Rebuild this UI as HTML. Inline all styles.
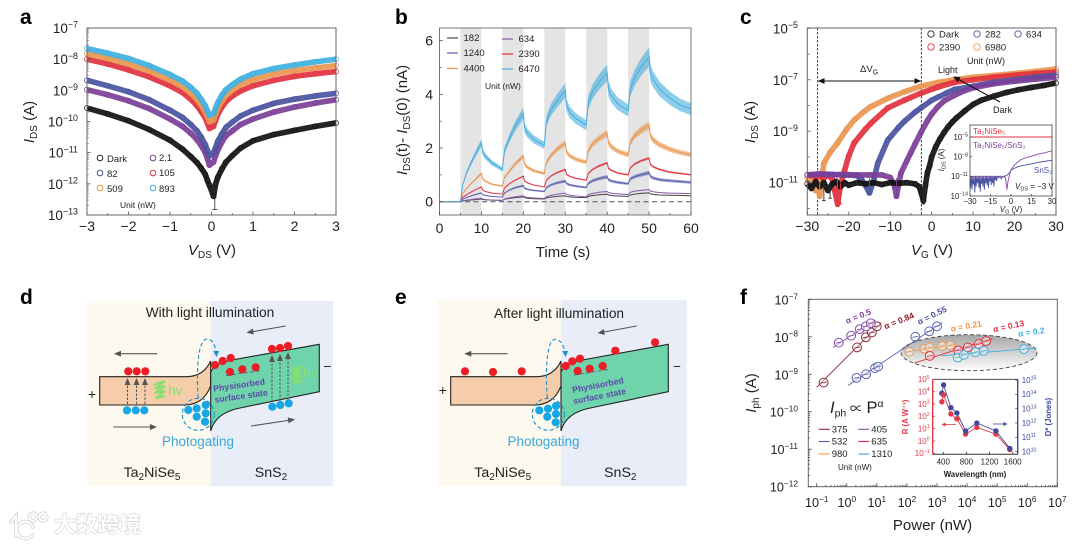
<!DOCTYPE html>
<html lang="en">
<head>
<meta charset="utf-8">
<title>Ta2NiSe5/SnS2 photodetector figure</title>
<style>
html,body{margin:0;padding:0;background:#fff;width:1080px;height:544px;overflow:hidden}
#fig{display:block;filter:blur(0.35px)}
text{font-family:"Liberation Sans","Noto Sans CJK SC",sans-serif;fill:#222}
.title{font-size:15px}
.panel{font-size:21px;font-weight:bold;fill:#000}
.leg{font-size:9.5px}
.unit{font-size:8.5px}
.dt{font-size:13.7px}
.big{font-size:14.2px}
.phys{font-size:8.7px;font-weight:bold;fill:#5a4ca8}
.ph{font-size:13.5px;fill:#3aa7d8}
.hv{font-size:14px;fill:#86e070}
</style>
</head>
<body>
<svg id="fig" xmlns="http://www.w3.org/2000/svg" width="1080" height="544" viewBox="0 0 1080 544">
<defs>
<marker id="ah" markerWidth="8" markerHeight="8" refX="6" refY="3" orient="auto" markerUnits="userSpaceOnUse"><path d="M0 0L7 3L0 6Z" fill="#555"/></marker>
<marker id="ak" markerWidth="8" markerHeight="8" refX="6" refY="3" orient="auto-start-reverse" markerUnits="userSpaceOnUse"><path d="M0 0L7 3L0 6Z" fill="#111"/></marker>
<marker id="ab" markerWidth="8" markerHeight="8" refX="5" refY="3" orient="auto" markerUnits="userSpaceOnUse"><path d="M0 0L6 3L0 6Z" fill="#1e8fc4"/></marker>
<marker id="ar" markerWidth="5" markerHeight="5" refX="3.5" refY="2" orient="auto" markerUnits="userSpaceOnUse"><path d="M0 0L4 2L0 4Z" fill="#e23a48"/></marker>
<marker id="ad" markerWidth="5" markerHeight="5" refX="3.5" refY="2" orient="auto" markerUnits="userSpaceOnUse"><path d="M0 0L4 2L0 4Z" fill="#3f4a9c"/></marker>
<linearGradient id="ellgrad" x1="0" y1="0" x2="0" y2="1"><stop offset="0" stop-color="#a6a6a6"/><stop offset="0.5" stop-color="#d2d2d2"/><stop offset="1" stop-color="#ffffff"/></linearGradient>
</defs>

<text class="panel" x="20" y="24">a</text>
<text class="panel" x="395" y="24">b</text>
<text class="panel" x="740" y="24">c</text>
<text class="panel" x="20" y="304">d</text>
<text class="panel" x="395" y="304">e</text>
<text class="panel" x="740" y="304">f</text>

<!-- panel a static text -->
<text class="title" transform="translate(34,122) rotate(-90)" text-anchor="middle"><tspan font-style="italic">I</tspan><tspan dy="3" font-size="10">DS</tspan><tspan dy="-3"> (A)</tspan></text>
<text class="title" x="212" y="255" text-anchor="middle"><tspan font-style="italic">V</tspan><tspan dy="3" font-size="10">DS</tspan><tspan dy="-3"> (V)</tspan></text>
<g class="leg">
<circle cx="100" cy="158" r="2.8" fill="none" stroke="#2a2a2a"/><text class="leg" x="107" y="162">Dark</text>
<circle cx="153" cy="158" r="2.8" fill="none" stroke="#7b3f98"/><text class="leg" x="159" y="161">2.1</text>
<circle cx="100" cy="173" r="2.8" fill="none" stroke="#4a54a0"/><text class="leg" x="107" y="177">82</text>
<circle cx="153" cy="173" r="2.8" fill="none" stroke="#e2313f"/><text class="leg" x="159" y="176">105</text>
<circle cx="100" cy="188" r="2.8" fill="none" stroke="#e9964f"/><text class="leg" x="107" y="192">509</text>
<circle cx="153" cy="188" r="2.8" fill="none" stroke="#3fb0e0"/><text class="leg" x="159" y="192">893</text>
<text class="unit" x="120" y="208">Unit (nW)</text>
</g>

<!-- panel b static text -->
<text class="title" transform="translate(407,120) rotate(-90)" text-anchor="middle"><tspan font-style="italic">I</tspan><tspan dy="3" font-size="10">DS</tspan><tspan dy="-3">(t)- </tspan><tspan font-style="italic">I</tspan><tspan dy="3" font-size="10">DS</tspan><tspan dy="-3">(0) (nA)</tspan></text>
<text class="title" x="563" y="257" text-anchor="middle">Time (s)</text>

<!-- panel c static text -->
<text class="title" transform="translate(755,122) rotate(-90)" text-anchor="middle"><tspan font-style="italic">I</tspan><tspan dy="3" font-size="10">DS</tspan><tspan dy="-3"> (A)</tspan></text>
<text class="title" x="932" y="255" text-anchor="middle"><tspan font-style="italic">V</tspan><tspan dy="3" font-size="10">G</tspan><tspan dy="-3"> (V)</tspan></text>

<!-- panel d -->
<g>
<rect x="87" y="301" width="123.7" height="185" fill="#fef9ee"/>
<rect x="210.7" y="301" width="122.3" height="185" fill="#e8edf7"/>
<path d="M99.7 376.7L186 376.7C198 376.7 206 371 210.7 361L210.7 386C206 398 198 405 184 405L99.7 405Z" fill="#f5cdaa" stroke="#222" stroke-width="1.1"/>
<path d="M210.7 431L210.7 372C213 366 220 362.5 232 360L319.3 344.3L319.3 391.7L240 408C225 411 214 418 210.7 431Z" fill="#6fd3ab" stroke="#222" stroke-width="1.1"/>
<text class="dt" x="210" y="317" text-anchor="middle">With light illumination</text>
<g stroke="#555" stroke-width="1.1" fill="none">
<line x1="157.3" y1="353.7" x2="115" y2="353.7" marker-end="url(#ah)"/>
<line x1="113.3" y1="427" x2="156" y2="427" marker-end="url(#ah)"/>
<line x1="285.7" y1="326" x2="247.5" y2="332.5" marker-end="url(#ah)"/>
<line x1="251" y1="426" x2="294" y2="419.5" marker-end="url(#ah)"/>
</g>
<g stroke="#555" stroke-width="1" stroke-dasharray="2.5 1.5" fill="none">
<line x1="127.5" y1="404" x2="127.5" y2="379" marker-end="url(#ah)"/>
<line x1="136.5" y1="404" x2="136.5" y2="379" marker-end="url(#ah)"/>
<line x1="145" y1="404" x2="145" y2="379" marker-end="url(#ah)"/>
<line x1="272" y1="402" x2="272" y2="356" marker-end="url(#ah)"/>
<line x1="280" y1="401" x2="280" y2="355" marker-end="url(#ah)"/>
<line x1="288" y1="400" x2="288" y2="353" marker-end="url(#ah)"/>
</g>
<g fill="#ee1c25">
<circle cx="128.3" cy="371.3" r="4.1"/><circle cx="136.7" cy="371.3" r="4.1"/><circle cx="145.3" cy="371.3" r="4.1"/>
<circle cx="215" cy="365" r="4.1"/><circle cx="222.7" cy="361" r="4.1"/><circle cx="230.7" cy="358" r="4.1"/>
<circle cx="230" cy="372" r="4.1"/><circle cx="242.3" cy="369.3" r="4.1"/><circle cx="255.7" cy="367.3" r="4.1"/>
<circle cx="272" cy="349" r="4.1"/><circle cx="280" cy="348" r="4.1"/><circle cx="288" cy="346" r="4.1"/>
</g>
<line x1="226" y1="375.5" x2="261.7" y2="370.5" stroke="#555" stroke-width=".8" stroke-dasharray="4 2"/>
<g fill="#18a7e6">
<circle cx="127" cy="410.3" r="4.1"/><circle cx="135.7" cy="410.3" r="4.1"/><circle cx="144.3" cy="410.3" r="4.1"/>
<circle cx="272.3" cy="406.7" r="4.1"/><circle cx="280.3" cy="405" r="4.1"/><circle cx="288.7" cy="403.3" r="4.1"/>
<circle cx="188.3" cy="410" r="4.1"/><circle cx="196.7" cy="408.3" r="4.1"/><circle cx="205.7" cy="405" r="4.1"/>
<circle cx="196.7" cy="416.7" r="4.1"/><circle cx="205.7" cy="413.3" r="4.1"/><circle cx="205" cy="421.7" r="4.1"/>
</g>
<circle cx="198.3" cy="414.3" r="16" fill="none" stroke="#1e8fc4" stroke-width="1.1" stroke-dasharray="4 2.5"/>
<path d="M198.3 398C196 370 198 339 207 339C213 339 216 347 216.5 356" fill="none" stroke="#1e8fc4" stroke-width="1.1" stroke-dasharray="4 2.5" marker-end="url(#ab)"/>
<g fill="none" stroke="#86e070" stroke-width="2.2">
<path d="M154 385L165 381L155 389L165 386L155 393L165 391L156 398L165 396"/>
<path d="M291 370L302 366L292 374L302 371L292 378L302 376L293 383L302 381"/>
</g>
<text class="hv" x="168" y="395">hv</text>
<text class="hv" x="303" y="378">hv</text>
<text class="phys" transform="translate(239.5,388) rotate(-8)" text-anchor="middle">Physisorbed</text>
<text class="phys" transform="translate(241.5,399) rotate(-8)" text-anchor="middle">surface state</text>
<text class="ph" x="198" y="446" text-anchor="middle">Photogating</text>
<text class="dt" x="92" y="399" text-anchor="middle">+</text>
<text class="dt" x="327.5" y="371" text-anchor="middle">−</text>
<text class="big" x="152" y="477" text-anchor="middle">Ta<tspan dy="3" font-size="10">2</tspan><tspan dy="-3">NiSe</tspan><tspan dy="3" font-size="10">5</tspan></text>
<text class="big" x="271" y="477" text-anchor="middle">SnS<tspan dy="3" font-size="10">2</tspan></text>
</g>

<!-- panel e -->
<g>
<rect x="437.7" y="300" width="123.3" height="186" fill="#fef9ee"/>
<rect x="561" y="300" width="125.7" height="186" fill="#e8edf7"/>
<path d="M450.7 376.7L536.3 376.7C548.3 376.7 556.3 371 561 361L561 386C556.3 398 548.3 405 534.3 405L450.7 405Z" fill="#f5cdaa" stroke="#222" stroke-width="1.1"/>
<path d="M561 431L561 372C563.3 366 570.3 362.5 582.3 360L668.3 344.3L668.3 391.7L590.3 408C575.3 411 564.3 418 561 431Z" fill="#6fd3ab" stroke="#222" stroke-width="1.1"/>
<text class="dt" x="559" y="318" text-anchor="middle">After light illumination</text>
<g stroke="#555" stroke-width="1.1" fill="none">
<line x1="507.7" y1="353.7" x2="465.3" y2="353.7" marker-end="url(#ah)"/>
<line x1="636.7" y1="326" x2="598.5" y2="333" marker-end="url(#ah)"/>
</g>
<g fill="#ee1c25">
<circle cx="465" cy="371.3" r="4.1"/><circle cx="493" cy="372" r="4.1"/><circle cx="521.7" cy="371.3" r="4.1"/>
<circle cx="565.7" cy="366" r="4.1"/><circle cx="572.3" cy="361.3" r="4.1"/><circle cx="580" cy="358.7" r="4.1"/>
<circle cx="577.7" cy="371" r="4.1"/><circle cx="589.7" cy="368.7" r="4.1"/><circle cx="602.7" cy="366" r="4.1"/>
<circle cx="615.3" cy="350.7" r="4.1"/><circle cx="655" cy="342.3" r="4.1"/>
</g>
<line x1="574" y1="375" x2="608" y2="369.5" stroke="#555" stroke-width=".8" stroke-dasharray="4 2"/>
<g fill="#18a7e6">
<circle cx="539.3" cy="410.3" r="4.1"/><circle cx="548" cy="408.7" r="4.1"/><circle cx="556" cy="406" r="4.1"/>
<circle cx="547.3" cy="416.7" r="4.1"/><circle cx="556" cy="414" r="4.1"/><circle cx="555.7" cy="422.3" r="4.1"/>
</g>
<circle cx="548.3" cy="414.3" r="16" fill="none" stroke="#1e8fc4" stroke-width="1.1" stroke-dasharray="4 2.5"/>
<path d="M547.3 398C545 370 547 339.3 555 339.3C561 339.3 565 347 565.5 356" fill="none" stroke="#1e8fc4" stroke-width="1.1" stroke-dasharray="4 2.5" marker-end="url(#ab)"/>
<text class="phys" transform="translate(598.5,388) rotate(-11)" text-anchor="middle">Physisorbed</text>
<text class="phys" transform="translate(600,399) rotate(-11)" text-anchor="middle">surface state</text>
<text class="ph" x="543.5" y="446" text-anchor="middle">Photogating</text>
<text class="dt" x="442.7" y="395" text-anchor="middle">+</text>
<text class="dt" x="677" y="371" text-anchor="middle">−</text>
<text class="big" x="502.7" y="477" text-anchor="middle">Ta<tspan dy="3" font-size="10">2</tspan><tspan dy="-3">NiSe</tspan><tspan dy="3" font-size="10">5</tspan></text>
<text class="big" x="620.3" y="477" text-anchor="middle">SnS<tspan dy="3" font-size="10">2</tspan></text>
</g>

<!-- panel f static text -->
<text class="title" transform="translate(756,393) rotate(-90)" text-anchor="middle"><tspan font-style="italic">I</tspan><tspan dy="3" font-size="10">ph</tspan><tspan dy="-3"> (A)</tspan></text>
<text class="title" x="932.5" y="530" text-anchor="middle">Power (nW)</text>

<!-- watermark -->
<g>
<g fill="none" stroke="#d6d6d6" stroke-width="3.6" stroke-linecap="round">
<path d="M11 522L16 516L16 536"/><path d="M33 527A8.5 8.5 0 1 0 32 535"/><circle cx="33" cy="517" r="3.8"/><circle cx="43" cy="517" r="3.8"/>
</g>
<g fill="none" stroke="#fff" stroke-width="1.8" stroke-linecap="round">
<path d="M11 522L16 516L16 536"/><path d="M33 527A8.5 8.5 0 1 0 32 535"/><circle cx="33" cy="517" r="3.8"/><circle cx="43" cy="517" r="3.8"/>
</g>
<text x="54" y="532" font-size="21.5" font-weight="bold" style="fill:#fff;stroke:#d6d6d6;stroke-width:1.3px;paint-order:stroke;letter-spacing:.3px;font-family:'Liberation Sans','Noto Sans CJK SC',sans-serif">大数跨境</text>
</g>

<g id="plots"></g>
</svg>

<script>
/* ---------- panel a data ---------- */
const aVoltage=[-3,-2.5,-2,-1.5,-1,-0.7,-0.5,-0.35,-0.25,-0.15,-0.1,-0.05,0.05,0.1,0.15,0.25,0.35,0.5,0.7,1,1.5,2,2.5,3];
const aDark=[2.7e-10,1.75e-10,1.05e-10,5.5e-11,2.5e-11,1.3e-11,7.5e-12,4.8e-12,3.2e-12,2e-12,1.3e-12,9e-13,4e-13,1e-12,1.6e-12,3e-12,5e-12,8e-12,1.4e-11,2.4e-11,3.8e-11,5.2e-11,7e-11,9e-11];
const a2p1=[1.05e-9,7.2e-10,4.6e-10,2.6e-10,1.2e-10,7e-11,4.2e-11,2.6e-11,1.7e-11,1e-11,6.5e-12,4e-12,5e-12,8e-12,1.2e-11,2.2e-11,3.5e-11,5e-11,8e-11,1.2e-10,2e-10,2.9e-10,3.9e-10,5e-10];
const a82=[2.1e-9,1.4e-9,9e-10,5e-10,2.3e-10,1.35e-10,8e-11,5e-11,3.2e-11,1.8e-11,1.2e-11,8e-12,1e-11,1.5e-11,2.3e-11,4e-11,6.5e-11,9.5e-11,1.5e-10,2.3e-10,3.8e-10,5.2e-10,6.6e-10,8e-10];
const a105=[1e-8,7e-9,4.5e-9,2.7e-9,1.4e-9,8.5e-10,5.2e-10,3.2e-10,2.1e-10,1.3e-10,9e-11,6e-11,7e-11,1.1e-10,1.7e-10,2.9e-10,4.4e-10,6.5e-10,9.5e-10,1.4e-9,2.1e-9,2.8e-9,3.4e-9,4e-9];
const a509=[1.5e-8,1.05e-8,7e-9,4.2e-9,2.1e-9,1.3e-9,8e-10,5e-10,3.3e-10,2e-10,1.4e-10,1e-10,1.1e-10,1.7e-10,2.6e-10,4.4e-10,6.8e-10,1e-9,1.5e-9,2.2e-9,3.3e-9,4.3e-9,5.2e-9,6.2e-9];
const a893=[2.2e-8,1.55e-8,1.05e-8,6.2e-9,3.2e-9,2e-9,1.25e-9,8e-10,5.2e-10,3.2e-10,2.2e-10,1.6e-10,1.8e-10,2.7e-10,4e-10,7e-10,1.05e-9,1.5e-9,2.3e-9,3.4e-9,5e-9,6.5e-9,8.2e-9,1e-8];
const aXTicks=[-3,-2,-1,0,1,2,3];
const aYExponents=[-7,-8,-9,-10,-11,-12,-13];
const aErrV=[0.08];
const aErrLow=[1.5e-13];
const aErrHigh=[4e-13];

/* ---------- panel b data ---------- */
const bTime=[0,5,5.5,6.5,8,10,10.3,11,12.5,15,15.5,16.5,18,20,20.3,21,22.5,25,25.5,26.5,28,30,30.3,31,32.5,35,35.5,36.5,38,40,40.3,41,42.5,45,45.5,46.5,48,50,50.3,51,52.5,55,57.5,60];
const b6470=[0,0,.6,1.1,1.6,2.2,1.85,1.68,1.45,1.2,1.9,2.3,2.8,3.3,2.75,2.55,2.32,2.1,3.0,3.4,3.75,4.15,3.6,3.35,3.1,2.85,3.7,4.1,4.45,4.8,4.2,3.95,3.65,3.4,4.2,4.6,5.0,5.4,4.8,4.55,4.2,3.85,3.6,3.45];
const b4400=[0,0,.3,.5,.75,1.05,.85,.76,.65,.58,.9,1.1,1.4,1.7,1.4,1.28,1.15,1.05,1.45,1.7,1.95,2.18,1.85,1.72,1.58,1.47,1.9,2.15,2.35,2.55,2.2,2.05,1.88,1.75,2.2,2.45,2.65,2.85,2.45,2.3,2.12,1.95,1.83,1.75];
const b2390=[0,0,.15,.27,.4,.55,.43,.38,.32,.28,.5,.65,.8,.95,.77,.7,.62,.55,.8,.95,1.08,1.2,1.02,.95,.87,.8,1.05,1.2,1.33,1.45,1.25,1.17,1.07,1,1.25,1.4,1.52,1.62,1.4,1.3,1.2,1.1,1.05,1];
const b1240=[0,0,.09,.16,.24,.33,.26,.23,.2,.17,.32,.42,.52,.6,.5,.46,.42,.38,.52,.62,.7,.77,.68,.63,.58,.53,.68,.78,.86,.93,.82,.77,.72,.67,.85,.93,1,1.08,.95,.88,.82,.78,.75,.72];
const b634=[0,0,.03,.06,.09,.13,.1,.08,.06,.05,.1,.14,.18,.22,.18,.16,.14,.12,.18,.23,.28,.32,.27,.24,.21,.18,.26,.31,.35,.38,.34,.32,.29,.27,.35,.39,.42,.45,.4,.37,.34,.32,.31,.3];
const b182=[0,0,.03,.05,.07,.1,.08,.07,.06,.05,.09,.12,.15,.18,.15,.13,.11,.1,.14,.17,.2,.22,.19,.18,.16,.15,.2,.23,.26,.28,.25,.23,.21,.2,.25,.28,.31,.33,.29,.27,.25,.24,.23,.22];
const bUncertainty=[0.06,0.035,0.07,0.03,0.05,0.065];
const bPulseOn=[5,15,25,35,45];
const bPulseOff=[10,20,30,40,50];
const bXTicks=[0,10,20,30,40,50,60];
const bYTicks=[0,2,4,6];

/* ---------- panel c data ---------- */
const cVgDark=[-30,-29,-28,-27,-26,-25,-24,-23,-22,-21,-20,-18,-16,-14,-12,-10,-8,-6,-4,-3,-2.5,-2,-1.5,-1,-0.5,0,1,2,3,4,5,6,8,10,12,15,18,21,24,27,30];
const cIDark=[9e-12,6e-12,1.1e-11,7e-12,1e-11,5e-12,9e-12,1.1e-11,7e-12,1e-11,8e-12,1e-11,9e-12,1e-11,8.5e-12,1e-11,9.5e-12,1e-11,9e-12,7e-12,4e-12,2e-12,8e-12,2.5e-11,4.5e-11,1e-10,2.5e-10,5e-10,9e-10,1.5e-9,2.3e-9,3.3e-9,6.2e-9,1.1e-8,1.6e-8,2.3e-8,3.2e-8,4.1e-8,5e-8,6e-8,7.5e-8];
const cVg282=[-30,-27,-24,-21,-18,-15,-12,-10,-9,-8.5,-8,-7.4,-6,-5,-4,-2.5,-1,0,1.5,3,5.5,8,10.3,15,20,25,30];
const cI282=[2e-11,2.2e-11,2e-11,2.1e-11,2e-11,2e-11,2e-11,1.6e-11,8e-12,3e-12,8e-12,2.4e-11,7e-11,1.5e-10,3.2e-10,9.5e-10,2.6e-9,4.6e-9,9e-9,1.5e-8,2.5e-8,3.8e-8,5e-8,7e-8,8.8e-8,1.05e-7,1.25e-7];
const cVg634=[-30,-27,-24,-21,-18,-17,-16,-15,-14,-13,-10.6,-8,-6.6,-4,-2.6,0,1.5,3.5,5.5,10,15,20,25,30];
const cI634=[2e-11,2.2e-11,2.1e-11,2e-11,1.9e-11,1.4e-11,8e-12,4e-12,1.2e-11,5.7e-11,4.5e-10,1.4e-9,2.4e-9,5.5e-9,8e-9,1.6e-8,2.1e-8,3e-8,4.2e-8,5.6e-8,8e-8,1e-7,1.25e-7,1.5e-7];
const cVg2390=[-30,-28,-26,-25,-24,-23.5,-22.7,-22,-21,-20,-18.7,-16,-14.7,-10.6,-6.6,-2.6,1.5,5.5,10,15,20,25,30];
const cI2390=[2e-11,1.8e-11,1.5e-11,2e-11,1.4e-11,6e-12,1.5e-12,8e-12,3e-11,1.1e-10,3.5e-10,1.2e-9,2e-9,8e-9,1.6e-8,3e-8,5.2e-8,8e-8,1e-7,1.25e-7,1.5e-7,1.75e-7,2e-7];
const cVg6980=[-30,-29,-28.5,-28,-27.5,-27,-26,-24.5,-22.7,-20.5,-18.7,-16.5,-14.7,-10.6,-6.6,-2.6,1.5,5.5,10,17.6,25,30];
const cI6980=[1.5e-11,8e-12,1.6e-11,5e-12,9e-12,3e-12,5.7e-11,1.5e-10,3.5e-10,1.2e-9,2.7e-9,5.5e-9,9e-9,1.9e-8,3.4e-8,5.6e-8,7.8e-8,1e-7,1.25e-7,1.6e-7,2.1e-7,2.6e-7];
const cErrVg=[-27,-26,-24.5,-22.7,-22,-15,-8.5,-2];
const cErrLow=[3e-12,2e-12,2.5e-12,1.2e-12,1.5e-12,4e-12,2.5e-12,1.5e-12];
const cErrHigh=[1.5e-11,1e-11,1e-11,1.5e-11,1e-11,1.5e-11,1.5e-11,1e-11];
const cErrSeries=['#e9964f','#2a2a2a','#2a2a2a','#e2313f','#e2313f','#4a54a0','#7b3f98','#2a2a2a'];
const cXTicks=[-30,-20,-10,0,10,20,30];
const cYExponents=[-5,-7,-9,-11];
const cGuideVg=[-27.5,-2.5];

/* ---------- panel c inset data ---------- */
const insetTaVg=[-30,30];
const insetTaI=[1e-5,1e-5];
const insetHetVg=[-30,-20,-10,-6,-4,-3,-2,0,2,4,7,10,15,20,25,30];
const insetHetI=[1e-11,1e-11,1e-11,1e-11,6e-12,1e-13,3e-12,1e-10,4e-10,1e-9,3.3e-9,6e-9,1.2e-8,2.5e-8,4e-8,8e-8];
const insetSnVg=[-30,-29.5,-29,-28.5,-28,-27.5,-27,-26.5,-26,-25.5,-25,-24.5,-24,-23.5,-23,-22.5,-22,-21.5,-21,-20.5,-20,-19.5,-19,-18.5,-18,-17.5,-17,-16.5,-16,-15.5,-15,-14.5,-14,-13.5,-13,-12.5,-12,-11.5,-11,-10.5,-10,-9,-8,-7,-6,-5,-4,-3,-2,-1,0,2,4,7,10,15,20,25,30];
const insetSnI=[1e-11,2e-13,1e-11,1e-13,8e-12,6e-13,1e-11,4e-14,1e-11,3e-13,9e-12,1e-12,1e-11,2e-13,1e-11,5e-14,8e-12,8e-13,1e-11,3e-13,1e-11,1e-13,9e-12,1e-12,1e-11,5e-13,1e-11,2e-13,8e-12,2e-12,1e-11,5e-13,1e-11,1e-12,9e-12,3e-13,1e-11,3e-12,1e-11,2e-12,1e-11,6e-12,1e-11,4e-12,1e-11,1e-11,1.2e-11,1.5e-11,2.2e-11,4e-11,8e-11,1.5e-10,2.4e-10,3.8e-10,5e-10,8e-10,1.3e-9,2e-9,2.8e-9];
const insetXTicks=[-30,-15,0,15,30];
const insetYExponents=[-5,-8,-11,-14];

/* ---------- panel f data ---------- */
const fP375=[0.17,2.2,4.3,6.8,10];
const fI375=[6e-10,5.2e-9,9.7e-9,1.3e-8,1.9e-8];
const fP405=[0.54,1.4,2.7,4.3,6.3];
const fI405=[7e-9,1.07e-8,1.6e-8,1.9e-8,2.3e-8];
const fP532=[2.1,4.4,8.7,11,190,550,1000];
const fI532=[8e-10,1e-9,1.45e-9,1.6e-9,1e-8,1.4e-8,1.9e-8];
const fP980=[120,380,575,1480,2760];
const fI980=[4e-9,4.8e-9,5.2e-9,5.7e-9,5.9e-9];
const fP635=[575,5100,10500,24500,43000];
const fI635=[3.1e-9,4.3e-9,5.2e-9,6.4e-9,7.7e-9];
const fP1310=[4900,7800,19000,36000,776000];
const fI1310=[2.8e-9,3.3e-9,3.9e-9,4.2e-9,4.7e-9];
const fFit375P=[0.1,14];
const fFit375I=[4.5e-10,2.4e-8];
const fFit405P=[0.35,9];
const fFit405I=[5.2e-9,2.8e-8];
const fFit532P=[1.1,1500];
const fFit532I=[5e-10,2.4e-8];
const fFit980P=[90,5000];
const fFit980I=[3.9e-9,6.2e-9];
const fFit635P=[180,70000];
const fFit635I=[2e-9,9e-9];
const fFit1310P=[1400,2000000];
const fFit1310I=[3.1e-9,5e-9];
const fExponentsX=[-1,0,1,2,3,4,5,6,7];
const fExponentsY=[-7,-8,-9,-10,-11,-12];

/* ---------- panel f inset data ---------- */
const wl=[375,405,532,635,785,980,1310,1550];
const wlR=[1.5e3,5.4e3,155,63,3.6,12.6,3.6,0.2];
const wlD=[1.2e14,4.5e14,1.2e13,5e12,2.8e11,1e12,2.8e11,1.7e10];
const wlTicks=[400,800,1200,1600];
const wlRExp=[5,4,3,2,1,0,-1];
const wlDExp=[15,14,13,12,11,10];

/* ---------- helpers ---------- */
const NS='http://www.w3.org/2000/svg';
const root=document.getElementById('plots');
const BLACK='#2a2a2a',PURPLE='#7b3f98',BLUE='#4a54a0',RED='#e2313f',ORANGE='#e9964f',CYAN='#3fb0e0';
function mk(tag,attrs,parent){
  const e=document.createElementNS(NS,tag);
  for(const k in attrs)e.setAttribute(k,attrs[k]);
  parent.appendChild(e);
  return e;
}
function lin(d0,d1,r0,r1){return v=>r0+(v-d0)/(d1-d0)*(r1-r0);}
function lg(d0,d1,r0,r1){return v=>r0+(Math.log10(v)-d0)/(d1-d0)*(r1-r0);}
function ptsOf(xs,ys,sx,sy){return xs.map((x,i)=>sx(x).toFixed(2)+','+sy(ys[i]).toFixed(2)).join(' ');}
function grp(parent){
  const g=mk('g',{},parent);
  return g;
}
function frame(parent,x0,y0,x1,y1,color,w){
  const r=mk('rect',{x:x0,y:y0,width:x1-x0,height:y1-y0,fill:'none',stroke:color,'stroke-width':w},parent);
  
  
}
function tickV(parent,x,y,len,color){
  const t=mk('line',{x1:x,x2:x,y1:y,y2:y+len,stroke:color,'stroke-width':0.8},parent);
  
  
}
function tickH(parent,x,y,len,color){
  const t=mk('line',{x1:x,x2:x+len,y1:y,y2:y,stroke:color,'stroke-width':0.8},parent);
  
  
}
function numLabel(parent,x,y,value,anchor,size,fill){
  const t=mk('text',{x:x,y:y,'text-anchor':anchor,'font-size':size},parent);
  
  
  if(fill)t.style.fill=fill;
  t.textContent=String(value).replace('-','−');
  return t;
}
function expLabel(parent,x,y,exp,anchor,size,fill){
  const t=mk('text',{x:x,y:y,'text-anchor':anchor,'font-size':size},parent);
  
  
  if(fill)t.style.fill=fill;
  t.textContent='10';
  const s=mk('tspan',{dy:-size*0.4,'font-size':size*0.66},t);
  if(fill)s.style.fill=fill;
  s.textContent=String(exp).replace('-','−');
  return t;
}
function scatterSeries(parent,xs,ys,sx,sy,color,bandW,r){
  const g=grp(parent);
  
  
  const band=mk('polyline',{points:ptsOf(xs,ys,sx,sy),fill:'none',stroke:color,'stroke-width':bandW,'stroke-linejoin':'round','stroke-linecap':'butt','stroke-opacity':0.92},g);
  
  
  xs.forEach((x,i)=>{
    const c=mk('circle',{cx:sx(x).toFixed(2),cy:sy(ys[i]).toFixed(2),r:r,fill:'none',stroke:color,'stroke-width':0.7},g);
    
    
  });
}
function solidLine(parent,xs,ys,sx,sy,color,w){
  const l=mk('polyline',{points:ptsOf(xs,ys,sx,sy),fill:'none',stroke:color,'stroke-width':w,'stroke-linejoin':'round'},parent);
  
  
}

/* ---------- panel a ---------- */
(function(){
  const g=grp(root);
  
  
  const L=87,R=336,T=28,B=215;
  const sx=lin(-3,3,L,R),sy=lg(-7,-13,T,B);
  [[a2p1,PURPLE],[a82,BLUE],[a105,RED],[a509,ORANGE],[a893,CYAN],[aDark,'#111']].forEach(s=>scatterSeries(g,aVoltage,s[0],sx,sy,s[1],5.6,2.6));
  aErrV.forEach((v,i)=>{
    const e=mk('line',{x1:sx(v),x2:sx(v),y1:sy(aErrLow[i]),y2:sy(aErrHigh[i]),stroke:BLACK,'stroke-width':0.8},g);
    
    
    const c=mk('line',{x1:sx(v)-2.5,x2:sx(v)+2.5,y1:sy(aErrLow[i]),y2:sy(aErrLow[i]),stroke:BLACK,'stroke-width':0.8},g);
    
    
  });
  frame(g,L,T,R,B,'#666',1);
  aXTicks.forEach(v=>{tickV(g,sx(v),B,-3.5,'#555');numLabel(g,sx(v),231,v,'middle',14);});
  aXTicks.slice(0,-1).forEach(v=>tickV(g,sx(v+0.5),B,-2,'#555'));
  aYExponents.forEach(e=>{
    tickH(g,L,sy(Math.pow(10,e)),3.5,'#555');
    expLabel(g,78,sy(Math.pow(10,e))+5,e,'end',13.5);
    if(e>-13)[2,3,4,5,6,7,8,9].forEach(m=>tickH(g,L,sy(m*Math.pow(10,e-1)),1.8,'#777'));
  });
})();

/* ---------- panel b ---------- */
(function(){
  const g=grp(root);
  
  
  const L=439.5,R=691,T=28,B=215;
  const sx=lin(0,60,L,R),sy=lin(0,6,201.7,40.7);
  bPulseOn.forEach((on,i)=>{
    const r=mk('rect',{x:sx(on),y:T,width:sx(bPulseOff[i])-sx(on),height:B-T,fill:'#e4e4e4'},g);
    
    
  });
  const z=mk('line',{x1:L,x2:R,y1:sy(0),y2:sy(0),stroke:'#555','stroke-width':1,'stroke-dasharray':'5 3.5'},g);
  
  
  const series=[[b182,'#4a4a4a'],[b634,'#8a5aa8'],[b1240,'#5a62ae'],[b2390,RED],[b4400,ORANGE],[b6470,'#45aede']];
  series.forEach((s,k)=>{
    const f=bUncertainty[k];
    const top=bTime.map((t,i)=>sx(t).toFixed(2)+','+sy(s[0][i]*(1+f)).toFixed(2));
    const bot=bTime.map((t,i)=>sx(t).toFixed(2)+','+sy(s[0][i]*(1-f)).toFixed(2)).reverse();
    const p=mk('polygon',{points:top.concat(bot).join(' '),fill:s[1],'fill-opacity':0.6},g);
    
    
    solidLine(g,bTime,s[0],sx,sy,s[1],1);
  });
  frame(g,L,T,R,B,'#777',1);
  bXTicks.forEach(v=>{tickV(g,sx(v),B,-3.5,'#555');numLabel(g,sx(v),233,v,'middle',14);});
  bXTicks.slice(0,-1).forEach(v=>tickV(g,sx(v+5),B,-2,'#555'));
  bYTicks.forEach(v=>{tickH(g,L,sy(v),3.5,'#555');numLabel(g,433,sy(v)+5,v,'end',14);});
  bYTicks.slice(0,-1).forEach(v=>tickH(g,L,sy(v+1),2,'#555'));
  const legN=[['182',447,38,'#4a4a4a'],['634',502,39,'#8a5aa8'],['1240',447,53,'#5a62ae'],['2390',502,54,RED],['4400',447,68.5,ORANGE],['6470',502,69,'#45aede']];
  legN.forEach(e=>{
    const l=mk('line',{x1:e[1],x2:e[1]+11,y1:e[2],y2:e[2],stroke:e[3],'stroke-width':1.2},g);
    
    
    const t=mk('text',{x:e[1]+16.5,y:e[2]+3.2,'font-size':9.5},g);
    
    
    t.textContent=e[0];
  });
  const u=mk('text',{x:485,y:89,'font-size':8.5},g);
  
  
  u.textContent='Unit (nW)';
})();

/* ---------- panel c ---------- */
(function(){
  const g=grp(root);
  
  
  const L=807.3,R=1056,T=28,B=215;
  const sx=lin(-30,30,L,R),sy=lg(-5,-11,28.3,182.7);
  cGuideVg.forEach(v=>{
    const d=mk('line',{x1:sx(v),x2:sx(v),y1:T,y2:B,stroke:'#111','stroke-width':0.8,'stroke-dasharray':'2.5 1.5'},g);
    
    
  });
  [[cVg6980,cI6980,ORANGE],[cVg2390,cI2390,RED],[cVg634,cI634,BLUE],[cVg282,cI282,PURPLE],[cVgDark,cIDark,'#111']].forEach(s=>scatterSeries(g,s[0],s[1],sx,sy,s[2],5.6,2.6));
  cErrVg.forEach((v,i)=>{
    const e=mk('line',{x1:sx(v),x2:sx(v),y1:sy(cErrLow[i]),y2:sy(cErrHigh[i]),stroke:cErrSeries[i],'stroke-width':0.9},g);
    
    
    const c=mk('line',{x1:sx(v)-1.8,x2:sx(v)+1.8,y1:sy(cErrLow[i]),y2:sy(cErrLow[i]),stroke:cErrSeries[i],'stroke-width':0.9},g);
    
    
  });
  const dv=mk('line',{x1:sx(cGuideVg[0])+1,x2:sx(cGuideVg[1])-1,y1:81,y2:81,stroke:'#111','stroke-width':1,'marker-start':'url(#ak)','marker-end':'url(#ak)'},g);
  
  
  const la=mk('line',{x1:1000,y1:102,x2:954,y2:77,stroke:'#111','stroke-width':1,'marker-end':'url(#ak)'},g);
  
  
  frame(g,L,T,R,B,'#666',1);
  cXTicks.forEach(v=>{tickV(g,sx(v),B,-3.5,'#555');numLabel(g,sx(v),231,v,'middle',14);});
  cXTicks.slice(0,-1).forEach(v=>tickV(g,sx(v+5),B,-2,'#555'));
  cYExponents.forEach(e=>{
    tickH(g,L,sy(Math.pow(10,e)),3.5,'#555');
    expLabel(g,798,sy(Math.pow(10,e))+5,e,'end',13.5);
    tickH(g,L,sy(Math.pow(10,e-1)),2.5,'#555');
  });
  const lc=[['Dark',931,34,BLACK],['282',977,34,PURPLE],['634',1018,34,BLUE],['2390',931,47,RED],['6980',977,47,ORANGE]];
  lc.forEach(e=>{
    const c=mk('circle',{cx:e[1],cy:e[2],r:3.2,fill:'none',stroke:e[3],'stroke-width':0.9},g);
    
    
    const t=mk('text',{x:e[1]+8,y:e[2]+3.4,'font-size':9.5},g);
    
    
    t.textContent=e[0];
  });
  [['Unit (nW)',967,64],['Light',938,73],['Dark',993,113]].forEach(e=>{
    const t=mk('text',{x:e[1],y:e[2],'font-size':9},g);
    
    
    t.textContent=e[0];
  });
  const dl=mk('text',{x:860,y:72,'font-size':9.5},g);
  
  
  dl.textContent='ΔV';
  const ds=mk('tspan',{dy:2.5,'font-size':7},dl);
  ds.textContent='G';

  /* inset */
  const ig=grp(g);
  
  
  const iL=970,iR=1052,iT=125,iB=196;
  const wb=mk('rect',{x:iL,y:iT,width:iR-iL,height:iB-iT,fill:'#fff'},ig);
  
  
  const tx=lin(-30,30,iL,iR),ty=lg(-5,-14,137,196);
  solidLine(ig,insetSnVg,insetSnI,tx,ty,'#4a54a0',0.9);
  solidLine(ig,insetHetVg,insetHetI,tx,ty,'#8a4aa8',0.9);
  solidLine(ig,insetTaVg,insetTaI,tx,ty,'#e2313f',1);
  frame(ig,iL,iT,iR,iB,'#444',0.8);
  insetXTicks.forEach(v=>{tickV(ig,tx(v),iB,-2,'#444');numLabel(ig,tx(v),204,v,'middle',7.8);});
  insetYExponents.forEach(e=>{tickH(ig,iL,ty(Math.pow(10,e)),2,'#444');expLabel(ig,iL-2,ty(Math.pow(10,e))+2.8,e,'end',7.8);});
  const iTexts=[['Ta₂NiSe₅',973,134,'#e2313f'],['Ta₂NiSe₅/SnS₂',973,148,'#7b3f98'],['SnS₂',1034,173,'#4a54a0']];
  iTexts.forEach(e=>{
    const t=mk('text',{x:e[1],y:e[2],'font-size':8},ig);
    
    
    t.style.fill=e[3];
    t.textContent=e[0];
  });
  const vd=mk('text',{x:1015,y:189,'font-size':8},ig);
  
  
  vd.innerHTML='<tspan font-style="italic">V</tspan><tspan dy="1.5" font-size="5.5">DS</tspan><tspan dy="-1.5"> = −3 V</tspan>';
  const vg=mk('text',{x:1011,y:212,'font-size':8,'text-anchor':'middle'},ig);
  
  
  vg.innerHTML='<tspan font-style="italic">V</tspan><tspan dy="1.5" font-size="5.5">G</tspan><tspan dy="-1.5"> (V)</tspan>';
  const id=mk('text',{'font-size':8,'text-anchor':'middle'},ig);
  
  
  id.setAttribute('transform','translate(944,160) rotate(-90)');
  id.innerHTML='<tspan font-style="italic">I</tspan><tspan dy="1.5" font-size="5.5">DS</tspan><tspan dy="-1.5"> (A)</tspan>';
})();

/* ---------- panel f ---------- */
(function(){
  const g=grp(root);
  
  
  const L=808.3,R=1057.3,T=299.3,B=486.7;
  const sx=lg(-1,7,816.7,1057.3),sy=lg(-7,-12,T,B);
  const el=mk('ellipse',{cx:969,cy:352.7,rx:68,ry:18,fill:'url(#ellgrad)',stroke:'#444','stroke-width':0.9,'stroke-dasharray':'4 2.5'},g);
  
  
  const sets=[[fP375,fI375,fFit375P,fFit375I,'#8b2a3a'],[fP405,fI405,fFit405P,fFit405I,'#8a4aa8'],[fP532,fI532,fFit532P,fFit532I,'#5a62ae'],[fP980,fI980,fFit980P,fFit980I,ORANGE],[fP635,fI635,fFit635P,fFit635I,RED],[fP1310,fI1310,fFit1310P,fFit1310I,CYAN]];
  sets.forEach(s=>{
    solidLine(g,s[2],s[3],sx,sy,s[4],0.9);
    s[0].forEach((p,i)=>{
      const c=mk('circle',{cx:sx(p).toFixed(2),cy:sy(s[1][i]).toFixed(2),r:4.4,fill:'#fff','fill-opacity':0.45,stroke:s[4],'stroke-width':1},g);
      
      
      const d=mk('line',{x1:sx(p)-3,x2:sx(p)+3,y1:sy(s[1][i])+0.6,y2:sy(s[1][i])-0.6,stroke:s[4],'stroke-width':0.9},g);
      
      
    });
  });
  frame(g,L,T,R,B,'#666',1);
  fExponentsX.forEach(e=>{
    tickV(g,sx(Math.pow(10,e)),B,-3.5,'#444');
    expLabel(g,sx(Math.pow(10,e)),507,e,'middle',12.6);
    if(e<7)[2,3,4,5,6,7,8,9].forEach(m=>tickV(g,sx(m*Math.pow(10,e)),B,-1.8,'#555'));
  });
  fExponentsY.forEach(e=>{
    tickH(g,L,sy(Math.pow(10,e)),3.5,'#444');
    expLabel(g,798,sy(Math.pow(10,e))+5,e,'end',12.6);
    if(e>-12)[2,3,4,5,6,7,8,9].forEach(m=>tickH(g,L,sy(m*Math.pow(10,e-1)),1.8,'#555'));
  });
  const alphas=[['α = 0.5',859.3,319,-22,'#8a3fa0'],['α = 0.84',900,323.5,-22,'#8b1a2b'],['α = 0.55',933.3,318,-26,'#4a54a0'],['α = 0.21',966.7,329,-10,ORANGE],['α = 0.13',1009.3,329,-12,RED],['α = 0.2',1031.7,335,-8,CYAN]];
  alphas.forEach(a=>{
    const t=mk('text',{transform:'translate('+a[1]+','+a[2]+') rotate('+a[3]+')','text-anchor':'middle','font-size':8.5},g);
    
    
    t.style.fill=a[4];
    t.style.fontWeight='bold';
    t.textContent=a[0];
  });
  const ll=[['375',818.7,429.3,'#8b2a3a'],['405',858.3,429.3,'#8a4aa8'],['532',818.7,441.5,'#5a62ae'],['635',858.3,441.5,RED],['980',818.7,454,ORANGE],['1310',858.3,454,CYAN]];
  ll.forEach(e=>{
    const l=mk('line',{x1:e[1],x2:e[1]+11,y1:e[2],y2:e[2],stroke:e[3],'stroke-width':1.1},g);
    
    
    const t=mk('text',{x:e[1]+13,y:e[2]+3.2,'font-size':9.5},g);
    
    
    t.textContent=e[0];
  });
  const un=mk('text',{x:838,y:470,'font-size':8},g);
  
  
  un.textContent='Unit (nW)';
  const pl=mk('text',{x:830,y:413,'font-size':16.5},g);
  
  
  pl.innerHTML='<tspan font-style="italic">I</tspan><tspan dy="3.5" font-size="10.5">ph</tspan><tspan dy="-3.5" font-size="13"> ∝ </tspan><tspan>P</tspan><tspan dy="-6" font-size="10.5">α</tspan>';

  /* inset */
  const ig=grp(g);
  
  
  const iL=932.7,iR=1017.7,iT=379.3,iB=454.3;
  const wb=mk('rect',{x:iL,y:iT,width:iR-iL,height:iB-iT,fill:'#fff'},ig);
  
  
  const tx=lin(400,1600,943.3,1012.7),tyR=lg(5,-1,379.3,453.3),tyD=lg(15,10,380,451.7);
  const IR='#e23a48',ID='#3f4a9c';
  solidLine(ig,wl,wlR,tx,tyR,IR,0.9);
  solidLine(ig,wl,wlD,tx,tyD,ID,0.9);
  wl.forEach((w,i)=>{
    const a=mk('circle',{cx:tx(w).toFixed(2),cy:tyR(wlR[i]).toFixed(2),r:2.7,fill:IR},ig);
    
    
    const b=mk('circle',{cx:tx(w).toFixed(2),cy:tyD(wlD[i]).toFixed(2),r:2.7,fill:ID},ig);
    
    
  });
  const lAx=mk('line',{x1:iL,x2:iL,y1:iT,y2:iB,stroke:IR,'stroke-width':1.4},ig);
  
  
  const rAx=mk('line',{x1:iR,x2:iR,y1:iT,y2:iB,stroke:ID,'stroke-width':1.4},ig);
  
  
  const bAx=mk('line',{x1:iL,x2:iR,y1:iB,y2:iB,stroke:'#333','stroke-width':1},ig);
  
  
  const tAx=mk('line',{x1:iL,x2:iR,y1:iT,y2:iT,stroke:'#333','stroke-width':0.8},ig);
  
  
  wlTicks.forEach(v=>{tickV(ig,tx(v),iB,-2.5,'#333');numLabel(ig,tx(v),464.5,v,'middle',8);});
  wlRExp.forEach(e=>{tickH(ig,iL,tyR(Math.pow(10,e)),2.5,IR);expLabel(ig,iL-3,tyR(Math.pow(10,e))+2.8,e,'end',8,IR);});
  wlDExp.forEach(e=>{tickH(ig,iR,tyD(Math.pow(10,e)),-2.5,ID);expLabel(ig,iR+4,tyD(Math.pow(10,e))+2.8,e,'start',8,ID);});
  const xt=mk('text',{x:975,y:477,'text-anchor':'middle','font-size':7.8,'font-weight':'bold'},ig);
  
  
  xt.textContent='Wavelength (nm)';
  const rt=mk('text',{transform:'translate(908,417) rotate(-90)','text-anchor':'middle','font-size':7.8,'font-weight':'bold'},ig);
  
  
  rt.style.fill=IR;
  rt.textContent='R (A W⁻¹)';
  const dt=mk('text',{transform:'translate(1051,417) rotate(-90)','text-anchor':'middle','font-size':7.8,'font-weight':'bold'},ig);
  
  
  dt.style.fill=ID;
  dt.textContent='D* (Jones)';
  const a1=mk('line',{x1:956,y1:424.5,x2:942,y2:424.5,stroke:IR,'stroke-width':0.8,'marker-end':'url(#ar)'},ig);
  
  
  const a2=mk('line',{x1:993,y1:424,x2:1007,y2:424,stroke:ID,'stroke-width':0.8,'marker-end':'url(#ad)'},ig);
  
  
})();
</script>
</body>
</html>
